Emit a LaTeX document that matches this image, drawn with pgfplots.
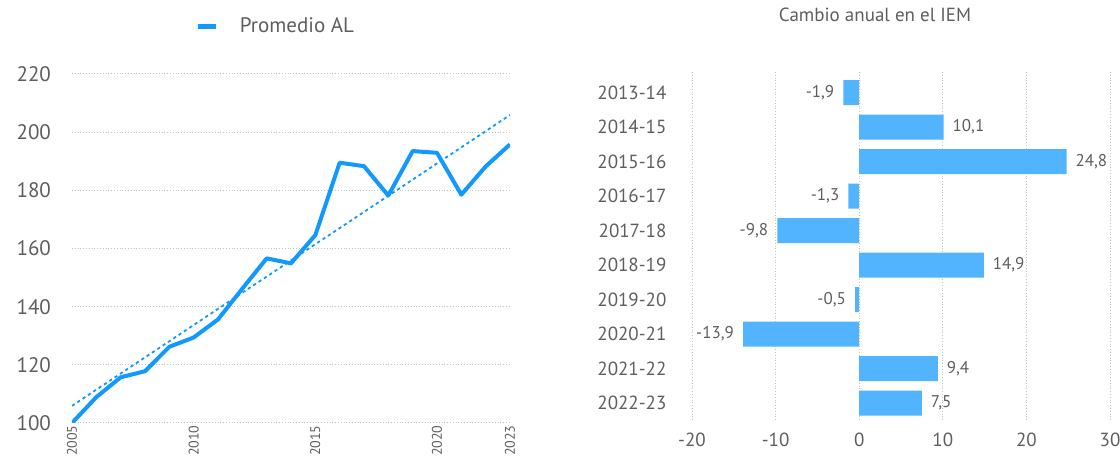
\documentclass[border=0pt]{standalone}
\usepackage{fontspec}
\setmainfont{PT Sans}
\usepackage{pgfplots}
\pgfplotsset{compat=1.18}
\definecolor{lineblue}{RGB}{17,153,255}
\definecolor{barblue}{RGB}{82,180,255}
\definecolor{txt}{RGB}{96,94,92}
\definecolor{gridc}{RGB}{195,195,195}
\newcommand{\fbig}{\fontsize{10.5}{12}\selectfont}
\newcommand{\fcat}{\fontsize{9.5}{11}\selectfont}
\newcommand{\fsmall}{\fontsize{7}{8}\selectfont}
\newcommand{\flab}{\fontsize{8.5}{10}\selectfont}
\newcommand{\ftitle}{\fontsize{9.5}{11}\selectfont}

\begin{document}
\begin{tikzpicture}
\useasboundingbox (0,0) rectangle (560pt,229pt);

% left: index line with trend
\begin{axis}[
  at={(36pt,17.5pt)}, anchor=south west,
  scale only axis, width=219pt, height=174.5pt,
  xmin=2005, xmax=2023, ymin=100, ymax=220,
  xtick={2005,2010,2015,2020,2023},
  ytick={100,120,...,220},
  axis line style={draw=none}, tick style={draw=none},
  ymajorgrids, grid style={densely dotted, gridc, line width=0.5pt},
  /pgf/number format/assume math mode=true,
  /pgf/number format/1000 sep={},
  yticklabel style={font=\fbig, text=txt, xshift=-7pt},
  xticklabel style={font=\fsmall, text=txt, rotate=90, anchor=east, inner sep=1pt},
  legend style={at={(0.281,1.135)}, anchor=west, draw=none, fill=none,
                font=\fbig, text=txt, inner sep=0pt},
  legend image code/.code={
    \draw[#1, line width=2.5pt] (0pt,0pt) -- (9pt,0pt);
    \path[draw=none] (0pt,0pt) -- (19pt,0pt);},
]
\addplot[lineblue, line width=0.9pt, dash pattern=on 1.6pt off 1.6pt, forget plot]
  coordinates {(2005,105.9) (2023,205.9)};
\addplot[lineblue, line width=2pt, line join=round]
  coordinates {
    (2005,100.0) (2006,108.9) (2007,115.7) (2008,117.8) (2009,126.2)
    (2010,129.4) (2011,135.6) (2012,146.2) (2013,156.6) (2014,154.9)
    (2015,164.6) (2016,189.5) (2017,188.3) (2018,178.2) (2019,193.5)
    (2020,192.9) (2021,178.5) (2022,188.2) (2023,195.8)};
\addlegendentry{Promedio AL}
\end{axis}

% right: annual change bars
\begin{axis}[
  at={(346pt,18pt)}, anchor=south west,
  scale only axis, width=209pt, height=175pt,
  xbar, bar width=12.5pt, bar shift=0pt,
  xmin=-20, xmax=30, ymin=-0.6, ymax=9.55, y dir=reverse,
  xtick={-20,-10,0,10,20,30},
  ytick={0,...,9},
  yticklabels={2013-14,2014-15,2015-16,2016-17,2017-18,2018-19,2019-20,2020-21,2021-22,2022-23},
  axis line style={draw=none}, tick style={draw=none},
  xmajorgrids, grid style={densely dotted, gridc, line width=0.5pt},
  /pgf/number format/assume math mode=true,
  yticklabel style={font=\fcat, text=txt, xshift=-5pt},
  xticklabel style={font=\fcat, text=txt, yshift=-2pt},
  title={Cambio anual en el IEM},
  title style={at={(0.438,1.129)}, anchor=center, font=\ftitle, text=txt},
  point meta=x,
  nodes near coords={\pgfmathprintnumber[fixed, fixed zerofill, precision=1, use comma, assume math mode=true]{\pgfplotspointmeta}},
  nodes near coords style={font=\flab, text=txt},
]
\addplot[fill=barblue, draw=none,
  every node near coord/.append style={anchor=east, xshift=-1pt}]
  coordinates {(-1.9,0) (-1.3,3) (-9.8,4) (-0.5,6) (-13.9,7)};
\addplot[fill=barblue, draw=none,
  every node near coord/.append style={anchor=west, xshift=1pt}]
  coordinates {(10.1,1) (24.8,2) (14.9,5) (9.4,8) (7.5,9)};
\end{axis}
\end{tikzpicture}
\end{document}
